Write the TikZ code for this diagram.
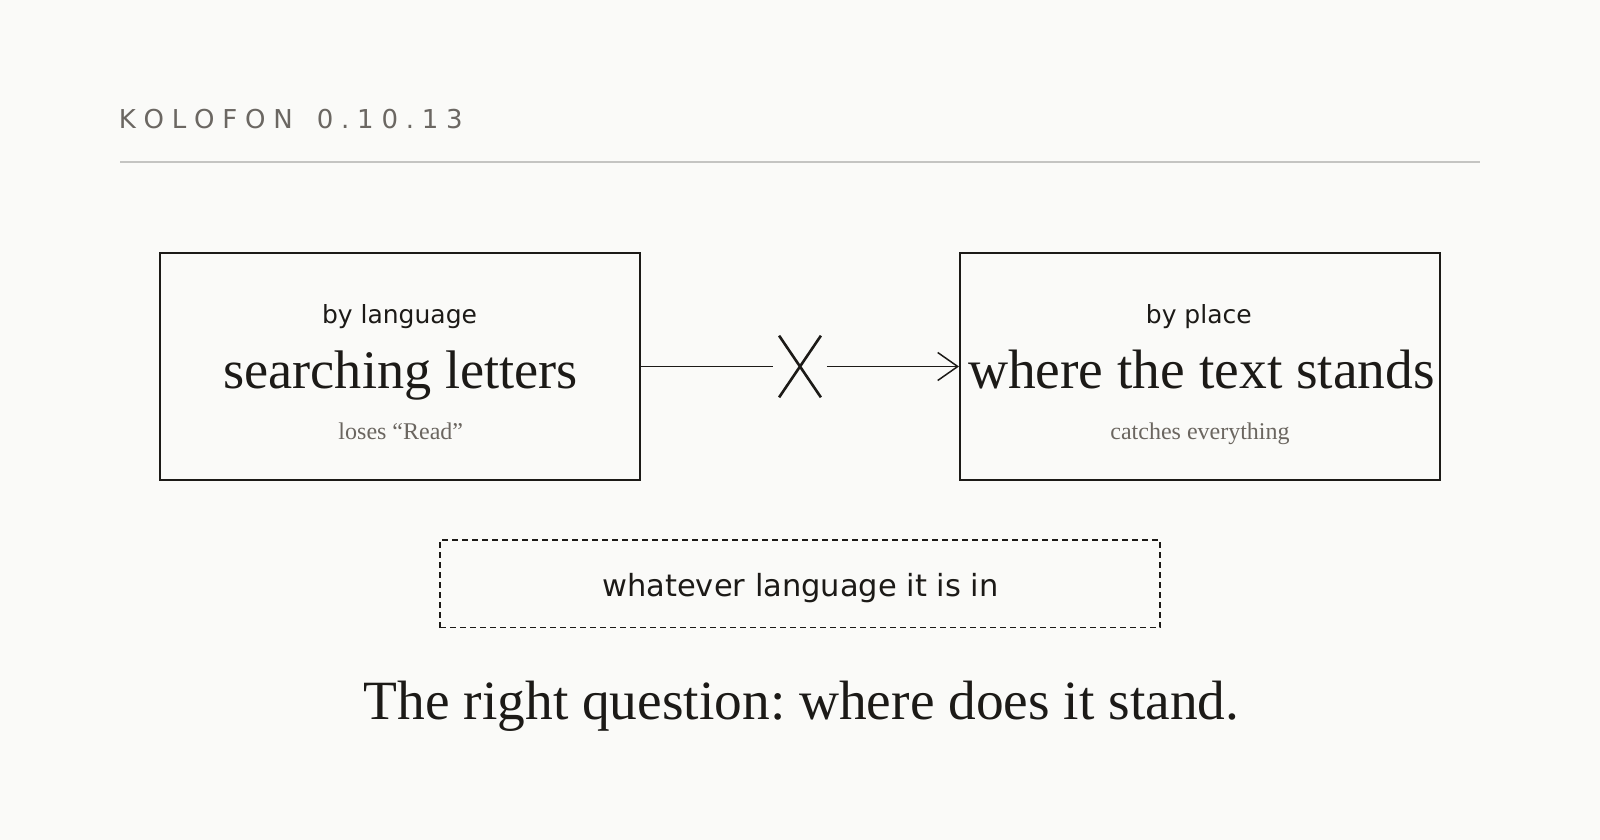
\documentclass[tikz,border=0pt]{standalone}
\usepackage{fontspec}
\setmainfont{Liberation Serif}
\newfontfamily\dv{DejaVu Sans}
\usetikzlibrary{arrows.meta}
\frenchspacing
\definecolor{bg}{HTML}{FAFAF8}
\definecolor{ink}{HTML}{1C1A17}
\definecolor{subc}{HTML}{6B6660}
\definecolor{rulec}{HTML}{C4C4C2}
\definecolor{kol}{HTML}{6B6762}
\tikzset{
  box/.style={draw=ink, line width=2pt, minimum width=480pt, minimum height=226.5pt, inner sep=0pt},
  dbox/.style={draw=ink, line width=1.5pt, dash pattern=on 6pt off 4pt, minimum width=720pt, minimum height=87.7pt, inner sep=0pt},
  txt/.style={inner sep=0pt, anchor=base, text=ink},
  kicker/.style={txt, font=\dv\fontsize{25}{30}\selectfont},
  bigtitle/.style={txt, font=\fontsize{54.3}{60}\selectfont},
  subtxt/.style={txt, text=subc, font=\fontsize{24}{28}\selectfont},
  conn/.style={draw=ink, line width=1.5pt},
}
\begin{document}
\begin{tikzpicture}[x=1pt,y=-1pt]
\fill[bg] (0,0) rectangle (1600,840);
\useasboundingbox (0,0) rectangle (1600,840);
% header
\node[txt, anchor=base west, text=kol, font=\dv\fontsize{26}{30}\selectfont] (head) at (118.6,128.3)
  {K\kern7.8pt O\kern7.8pt L\kern7.8pt O\kern7.8pt F\kern7.8pt O\kern7.8pt N\kern7.8pt\ \kern7.8pt 0\kern7.8pt .\kern7.8pt 1\kern7.8pt 0\kern7.8pt .\kern7.8pt 1\kern7.8pt 3};
\coordinate (r1) at (120,162);
\coordinate (r2) at (1480,162);
\draw[rulec, line width=1.4pt] (r1) -- (r2);
% boxes
\node[box] (a) at (400,366.5) {};
\node[box] (b) at (1200,366.5) {};
\node[kicker] (a1) at (399.5,323.3) {by language};
\node[bigtitle] (a2) at (400.5,388.3) {searching letters};
\node[subtxt] (a3) at (400.8,439.3) {loses “Read”};
\node[kicker] (b1) at (1198.8,323.3) {by place};
\node[bigtitle, font=\fontsize{55.5}{60}\selectfont] (b2) at (1201.5,388.3) {where the text stands};
\node[subtxt] (b3) at (1200,439.3) {catches everything};
% connector with cross
\node[inner sep=0pt, minimum width=53.4pt, minimum height=61.3pt] (x) at (800,366.5) {};
\draw[ink, line width=2.6pt] ([xshift=6pt]x.north west) -- ([xshift=-6pt]x.south east);
\draw[ink, line width=2.6pt] ([xshift=-6pt]x.north east) -- ([xshift=6pt]x.south west);
\draw[conn] (a.east) -- (x.west);
\draw[conn, -{Straight Barb[length=20pt, width=28pt, line width=1.5pt]}] (x.east) -- (b.west);
% dashed box
\node[dbox] (d) at (800,583.8) {};
\node[txt, font=\dv\fontsize{30.5}{36}\selectfont] (d1) at (800.5,596.7) {whatever language it is in};
% bottom line
\node[txt, font=\fontsize{55.4}{64}\selectfont] (q) at (801.5,719.3) {The right question: where does it stand.};
\end{tikzpicture}
\end{document}
